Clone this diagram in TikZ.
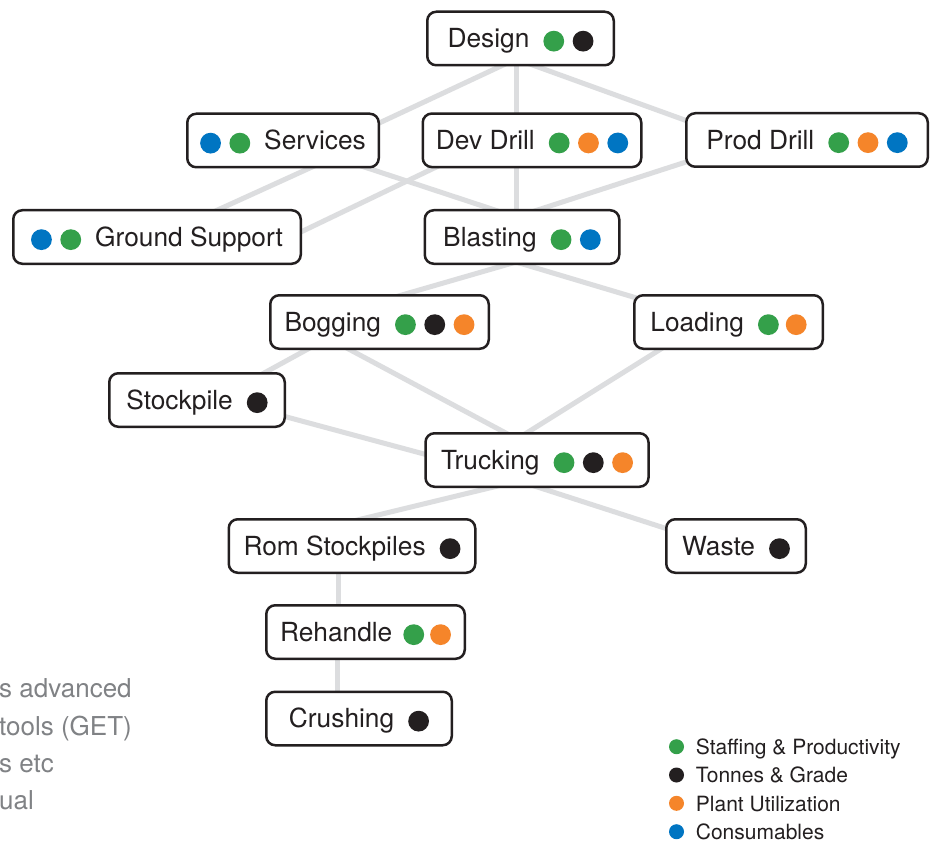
\documentclass[tikz,border=0pt]{standalone}
\usepackage{fontspec}
\setmainfont{TeX Gyre Heros}
\usetikzlibrary{calc,backgrounds}
\definecolor{cgreen}{HTML}{34A04A}
\definecolor{cblack}{HTML}{231F20}
\definecolor{corange}{HTML}{F5852A}
\definecolor{cblue}{HTML}{0075C2}
\definecolor{edgegray}{HTML}{DCDDDF}
\definecolor{notegray}{HTML}{808285}
\newcommand\dt[1]{\tikz[baseline={(0pt,-6.7pt)}]\fill[#1](0pt,0pt) circle (10.4pt);}
\newcommand\dg{\hspace{8.5pt}}
\newcommand\tg{\hspace{14pt}}
\begin{document}
\begin{tikzpicture}[x=1pt,y=-1pt,
  box/.style={draw=cblack, line width=2.5pt, rounded corners=9pt, fill=white,
    minimum height=53.5pt, inner sep=0pt, text height=18.7pt, text depth=0pt,
    text=cblack, font=\fontsize{26.3}{31}\selectfont},
  link/.style={draw=edgegray, line width=5pt},
  legtext/.style={anchor=base west, inner sep=0pt, text=cblack, font=\fontsize{21}{25}\selectfont},
  note/.style={anchor=base west, inner sep=0pt, text=notegray, font=\fontsize{26}{31}\selectfont}]
\useasboundingbox (0,0) rectangle (936,842);

\node[box, minimum width=186.5pt] (design) at (520.5,38.5) {Design\tg\dt{cgreen}\dg\dt{cblack}};
\node[box, minimum width=191.5pt] (services) at (283,140.5) {\dt{cblue}\dg\dt{cgreen}\tg Services};
\node[box, minimum width=218.5pt] (devdrill) at (532,140.3) {Dev Drill\tg\dt{cgreen}\dg\dt{corange}\dg\dt{cblue}};
\node[box, minimum width=241.5pt] (proddrill) at (807,140) {Prod Drill\tg\dt{cgreen}\dg\dt{corange}\dg\dt{cblue}};
\node[box, minimum width=287.5pt] (ground) at (157,237) {\dt{cblue}\dg\dt{cgreen}\tg Ground Support};
\node[box, minimum width=194.5pt] (blasting) at (522,237) {Blasting\tg\dt{cgreen}\dg\dt{cblue}};
\node[box, minimum width=218.5pt] (bogging) at (379.5,322) {Bogging\tg\dt{cgreen}\dg\dt{cblack}\dg\dt{corange}};
\node[box, minimum width=188.5pt] (loading) at (728.5,322) {Loading\tg\dt{cgreen}\hspace{7pt}\dt{corange}};
\node[box, minimum width=175.5pt] (stockpile) at (197,400) {Stockpile\tg\dt{cblack}};
\node[box, minimum width=223pt] (trucking) at (537,460) {Trucking\tg\dt{cgreen}\dg\dt{cblack}\dg\dt{corange}};
\node[box, minimum width=246.5pt] (rom) at (352,546) {Rom Stockpiles\tg\dt{cblack}};
\node[box, minimum width=139.5pt] (waste) at (736,546) {Waste\tg\dt{cblack}};
\node[box, minimum width=198.5pt] (rehandle) at (365.5,632) {Rehandle\hspace{11pt}\dt{cgreen}\hspace{6pt}\dt{corange}};
\node[box, minimum width=185.5pt] (crushing) at (359,718.5) {Crushing\tg\dt{cblack}};

\begin{scope}[on background layer]
\fill[white] (0,0) rectangle (936,842);
\draw[link] ($(design)+(-4.5,20.5)$) -- ($(services)+(77,-8.5)$);
\draw[link] ($(design)+(-4.5,20.5)$) -- ($(devdrill)+(-16,-15.3)$);
\draw[link] ($(design)+(-4.5,20.5)$) -- ($(proddrill)+(-92,-9)$);
\draw[link] ($(services)+(51,16.5)$) -- ($(ground)+(43,-19)$);
\draw[link] ($(services)+(51,16.5)$) -- ($(blasting)+(-6,-20)$);
\draw[link] ($(devdrill)+(-16,9.7)$) -- ($(blasting)+(-6,-20)$);
\draw[link] ($(proddrill)+(-87,11)$) -- ($(blasting)+(-6,-20)$);
\draw[link] ($(devdrill)+(-77,17.7)$) -- ($(ground)+(123,5)$);
\draw[link] ($(blasting)+(-6,25)$) -- ($(bogging)+(15.5,-25)$);
\draw[link] ($(blasting)+(-6,25)$) -- ($(loading)+(-78.5,-20)$);
\draw[link] ($(bogging)+(-51.5,16)$) -- ($(stockpile)+(58,-22)$);
\draw[link] ($(bogging)+(-51.5,16)$) -- ($(trucking)+(-20,-21)$);
\draw[link] ($(loading)+(-48.5,15)$) -- ($(trucking)+(-20,-21)$);
\draw[link] ($(stockpile)+(73,12.5)$) -- ($(trucking)+(-87,1)$);
\draw[link] ($(trucking)+(-27,23)$) -- ($(rom)+(-7,-23)$);
\draw[link] ($(trucking)+(-12,23)$) -- ($(waste)+(-56,-13)$);
\draw[link] ($(rom)+(-13.5,14)$) -- ($(rehandle)+(-27,-12)$);
\draw[link] ($(rehandle)+(-28.5,13)$) -- ($(crushing)+(-22,-13.5)$);
\end{scope}

\fill[cgreen] (676.5,746.7) circle (7.5pt);
\fill[cblack] (676.5,775) circle (7.5pt);
\fill[corange] (676.5,803.3) circle (7.5pt);
\fill[cblue] (676.5,831.7) circle (7.5pt);
\node[legtext] (leg1) at (695.7,754.3) {Staffing \& Productivity};
\node[legtext] (leg2) at (695.7,782.6) {Tonnes \& Grade};
\node[legtext] (leg3) at (695.7,811) {Plant Utilization};
\node[legtext] (leg4) at (695.7,839.3) {Consumables};

\node[note] (n1) at (-1,697) {s advanced};
\node[note] (n2) at (-1,735) {tools (GET)};
\node[note] (n3) at (-1,772) {s etc};
\node[note] (n4) at (-1,809) {ual};
\end{tikzpicture}
\end{document}
